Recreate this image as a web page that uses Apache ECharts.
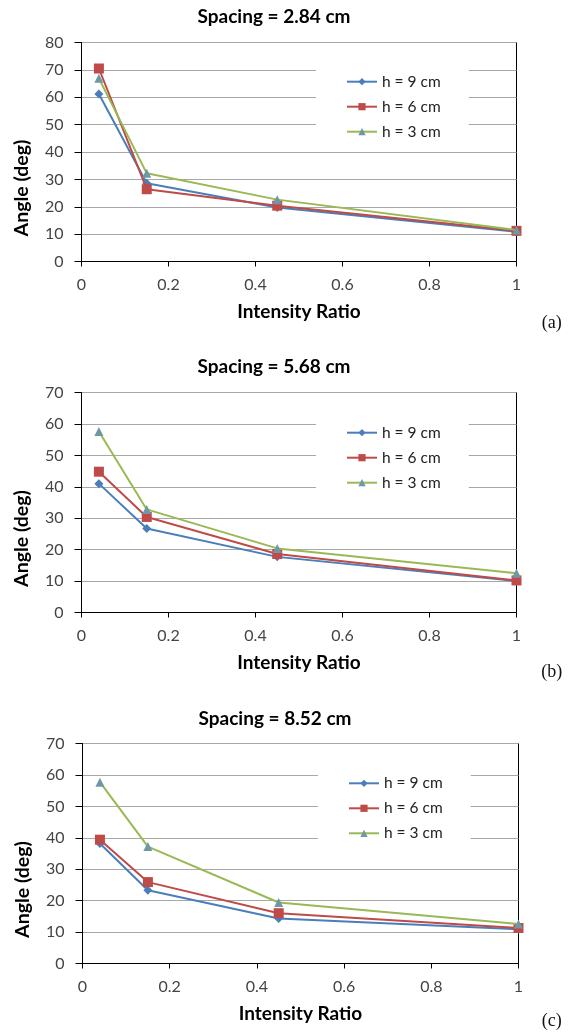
<!DOCTYPE html>
<html>
<head>
<meta charset="utf-8">
<script src="https://cdn.jsdelivr.net/npm/echarts@6/dist/echarts.min.js"></script>
<style>html,body{margin:0;padding:0;background:#fff}#c{width:575px;height:1032px}</style>
</head>
<body>
<div id="c"></div>
<script>
// ---- data ----
const intensityRatio = [0.04, 0.15, 0.45, 1];
const seriesNames = ['h = 9 cm', 'h = 6 cm', 'h = 3 cm'];
const chartTitles = ['Spacing = 2.84 cm', 'Spacing = 5.68 cm', 'Spacing = 8.52 cm'];
const panelLabels = ['(a)', '(b)', '(c)'];
const yMax = [80, 70, 70];
// spacing 2.84 cm
const a_h9 = [61.2, 28.6, 19.7, 10.9];
const a_h6 = [70.5, 26.4, 20.4, 11.2];
const a_h3 = [66.9, 32.2, 22.6, 11.5];
// spacing 5.68 cm
const b_h9 = [41.0, 26.7, 17.7, 10.0];
const b_h6 = [44.8, 30.4, 18.6, 10.2];
const b_h3 = [57.6, 32.8, 20.4, 12.5];
// spacing 8.52 cm
const c_h9 = [38.2, 23.3, 14.3, 10.9];
const c_h6 = [39.4, 25.9, 16.0, 11.3];
const c_h3 = [57.7, 37.2, 19.4, 12.6];
const panels = [[a_h9, a_h6, a_h3], [b_h9, b_h6, b_h3], [c_h9, c_h6, c_h3]];

// ---- layout / style ----
const colors = ['#4a7ebb', '#be4b48', '#98b954'];
const markerColors = ['#4a7ebb', '#be4b48', '#6f97a6'];
const symbols = ['diamond', 'rect', 'triangle'];
const symbolSizes = [9, 10, 9];
const grids = [
  {left: 81.5, top: 42.5, width: 435, height: 219},
  {left: 81.5, top: 392.5, width: 435, height: 220},
  {left: 82.5, top: 743.5, width: 436, height: 220}
];
const titleY = [7, 357, 709];
const titleX = [274, 274, 275];
const legendFirstItemY = [81.7, 432.7, 783.3];
const legendLeft = [316, 316, 318];
const labelY = [323, 672.7, 1021.7];

const font = 'Lato, "Open Sans", sans-serif';
const option = {
  animation: false,
  backgroundColor: '#fff',
  title: [], grid: [], xAxis: [], yAxis: [], legend: [], series: [], graphic: []
};

for (let p = 0; p < 3; p++) {
  const g = grids[p];
  option.grid.push({left: g.left, top: g.top, width: g.width, height: g.height,
    show: true, borderColor: '#000', borderWidth: 1, backgroundColor: 'transparent'});
  option.title.push({text: chartTitles[p], left: titleX[p], top: titleY[p], textAlign: 'center', padding: 0,
    textStyle: {fontFamily: font, fontWeight: 'bold', fontSize: 19, color: '#000'}});
  option.xAxis.push({type: 'value', gridIndex: p, min: 0, max: 1, interval: 0.2,
    name: 'Intensity Ratio', nameLocation: 'middle', nameGap: 41,
    nameTextStyle: {fontFamily: font, fontWeight: 'bold', fontSize: 19, color: '#000'},
    axisLine: {show: true, lineStyle: {color: '#000', width: 1}},
    axisTick: {show: true, length: 5, inside: false, lineStyle: {color: '#000'}},
    axisLabel: {fontFamily: font, fontSize: 16, color: '#444', margin: 15},
    splitLine: {show: false}});
  option.yAxis.push({type: 'value', gridIndex: p, min: 0, max: yMax[p], interval: 10,
    name: 'Angle (deg)', nameLocation: 'middle', nameGap: 50, nameRotate: 90,
    nameTextStyle: {fontFamily: font, fontWeight: 'bold', fontSize: 19.5, color: '#000', padding: [0, 72, 0, 0]},
    axisLine: {show: true, lineStyle: {color: '#000', width: 1}},
    axisTick: {show: true, length: 7, lineStyle: {color: '#000'}},
    axisLabel: {fontFamily: font, fontSize: 16, color: '#444', margin: 18},
    splitLine: {show: true, lineStyle: {color: '#a8a8a8', width: 1}}});
  option.legend.push({
    orient: 'vertical', left: legendLeft[p], top: legendFirstItemY[p] - 18,
    padding: [9, 28, 6, 30], itemGap: 7, itemWidth: 30, itemHeight: 9,
    backgroundColor: '#fff', z: 5,
    data: seriesNames.map(n => n + '\u200b'.repeat(p)),
    textStyle: {fontFamily: font, fontSize: 15.5, color: '#222', lineHeight: 18}
  });
  for (let s = 0; s < 3; s++) {
    const vals = panels[p][s];
    option.series.push({
      type: 'line', name: seriesNames[s] + '\u200b'.repeat(p), xAxisIndex: p, yAxisIndex: p,
      data: intensityRatio.map((x, i) => [x, vals[i]]),
      symbol: symbols[s], symbolSize: symbolSizes[s], showSymbol: true,
      lineStyle: {color: colors[s], width: 2},
      itemStyle: {color: markerColors[s]},
      color: colors[s],
      z: 3 + s
    });
  }
  option.graphic.push({type: 'text', x: 551.7, y: labelY[p],
    style: {text: panelLabels[p], fontFamily: '"Liberation Serif", serif', fontSize: 18, fill: '#111',
      textAlign: 'center', textVerticalAlign: 'middle'}});
}

const chart = echarts.init(document.getElementById('c'), null, {renderer: 'canvas'});
chart.setOption(option);
</script>
</body>
</html>
